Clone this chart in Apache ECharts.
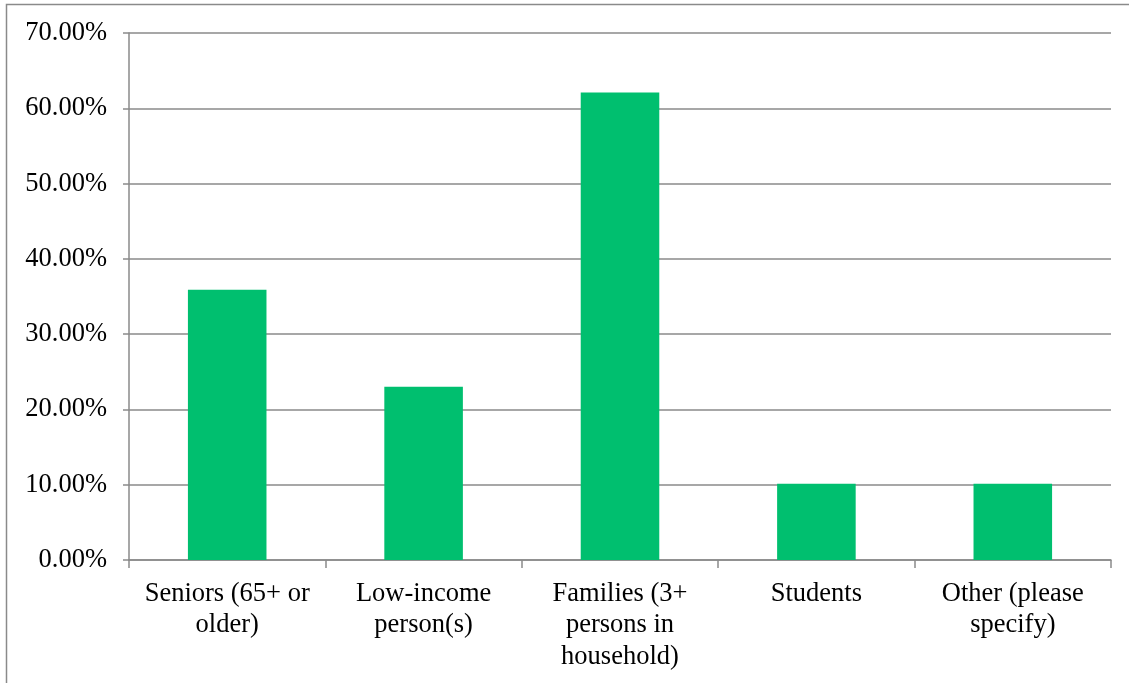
<!DOCTYPE html>
<html>
<head>
<meta charset="utf-8">
<script src="https://cdn.jsdelivr.net/npm/echarts@6/dist/echarts.min.js"></script>
<style>
html,body{margin:0;padding:0;background:#fff;}
#c{width:1129px;height:683px;}
</style>
</head>
<body>
<div id="c"></div>
<script>
const categories = ["Seniors (65+ or older)", "Low-income person(s)", "Families (3+ persons in household)", "Students", "Other (please specify)"];
const tickLabels = ["Seniors (65+ or\nolder)", "Low-income\nperson(s)", "Families (3+\npersons in\nhousehold)", "Students", "Other (please\nspecify)"];
const values = [35.9, 23.0, 62.1, 10.13, 10.13];
const yMin = 0, yMax = 70, yStep = 10;

const chart = echarts.init(document.getElementById('c'), null, {renderer: 'canvas'});
const font = '"Liberation Serif", "Times New Roman", serif';
const gray = '#8a8a8a';
chart.setOption({
  animation: false,
  backgroundColor: '#fff',
  graphic: [{
    type: 'rect',
    z: -10,
    silent: true,
    shape: {x: 6.5, y: 4.5, width: 1300, height: 1000},
    style: {fill: 'none', stroke: gray, lineWidth: 1.5}
  }],
  grid: {left: 129, right: 18, top: 33, bottom: 123, containLabel: false},
  xAxis: {
    type: 'category',
    data: categories,
    axisLine: {show: true, lineStyle: {color: gray, width: 1.5}},
    axisTick: {show: true, alignWithLabel: false, length: 8, lineStyle: {color: gray, width: 1.5}},
    axisLabel: {
      interval: 0,
      margin: 18,
      color: '#000',
      fontFamily: font,
      fontSize: 26.5,
      lineHeight: 31.5,
      align: 'center',
      formatter: function (v, i) { return tickLabels[i]; }
    },
    splitLine: {show: false}
  },
  yAxis: {
    type: 'value',
    min: yMin, max: yMax, interval: yStep,
    axisLine: {show: true, lineStyle: {color: gray, width: 1.5}},
    axisTick: {show: true, length: 6, lineStyle: {color: gray, width: 1.5}},
    axisLabel: {
      margin: 22,
      color: '#000',
      fontFamily: font,
      fontSize: 26.5,
      formatter: function (v) { return v.toFixed(2) + '%'; }
    },
    splitLine: {show: true, lineStyle: {color: gray, width: 1.5}}
  },
  series: [{
    type: 'bar',
    data: values,
    barCategoryGap: '60%',
    itemStyle: {color: '#00BF6F'},
    silent: true
  }]
});
</script>
</body>
</html>
